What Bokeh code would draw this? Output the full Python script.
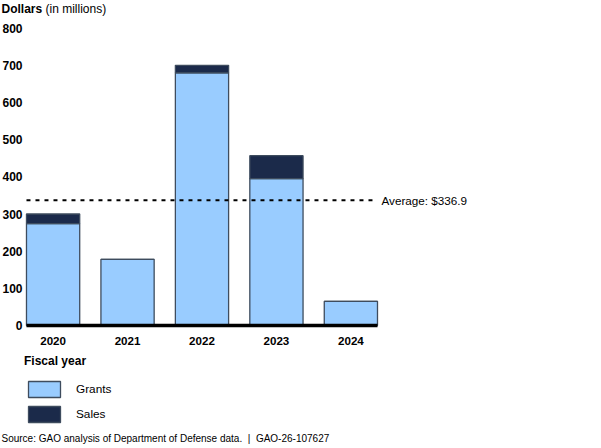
from bokeh.plotting import figure
from bokeh.models import Range1d, FixedTicker, Label, Legend, LegendItem, ColumnDataSource
from bokeh.embed import file_html
from bokeh.resources import INLINE

# ---- data ----
years = ["2020", "2021", "2022", "2023", "2024"]
grants = [274, 178, 680, 395, 65]
sales = [26, 0, 20, 62, 0]
average = 336.9
y_ticks = [0, 100, 200, 300, 400, 500, 600, 700, 800]

FONT = "Liberation Sans"
GRANT_COLOR = "#99ccff"
SALES_COLOR = "#1b2a4a"
OUTLINE = "#3e4c5e"

W, H = 600, 446
xs = list(range(len(years)))
src = ColumnDataSource(dict(x=xs, grants=grants, sales=sales))

BAR_W = 0.715
X0, X1 = -0.7065, 7.353
Y0, Y1 = -325.6, 874.5
PX_PER_X = W / (X1 - X0)

p = figure(width=W, height=H, output_backend="svg", toolbar_location=None,
           x_range=Range1d(X0, X1), y_range=Range1d(Y0, Y1), min_border=0)
p.outline_line_color = None
p.grid.grid_line_color = None
p.background_fill_color = None
p.border_fill_color = None

r = p.vbar_stack(["grants", "sales"], x="x", width=BAR_W, source=src,
                 fill_color=[GRANT_COLOR, SALES_COLOR], line_color=OUTLINE,
                 line_width=1.3)

# baseline and average line spanning the bars
x_left = xs[0] - BAR_W / 2
x_right = xs[-1] + BAR_W / 2
p.segment(x0=[x_left], x1=[x_right], y0=[0], y1=[0], line_color="black", line_width=3.5)
p.segment(x0=[x_left], x1=[x_right], y0=[average], y1=[average],
          line_color="black", line_width=2, line_dash="4 5")
p.add_layout(Label(x=x_right, y=average, x_offset=4, text=f"Average: ${average}",
                   text_font=FONT, text_font_size="11.7px", text_baseline="middle",
                   text_color="black"))

# axes drawn inside the frame
for ax in (p.xaxis[0], p.yaxis[0]):
    ax.axis_line_color = None
    ax.major_tick_line_color = None
    ax.minor_tick_line_color = None
    ax.major_tick_out = 0
    ax.major_tick_in = 0
    ax.minor_tick_out = 0
    ax.major_label_text_font = FONT
    ax.major_label_text_font_style = "bold"
    ax.major_label_text_color = "black"

p.yaxis.ticker = FixedTicker(ticks=y_ticks)
p.yaxis.fixed_location = X0 + 24 / PX_PER_X
p.yaxis.major_label_standoff = 2
p.yaxis.major_label_text_font_size = "12px"

p.xaxis.ticker = FixedTicker(ticks=xs)
p.xaxis.major_label_overrides = {i: y for i, y in zip(xs, years)}
p.xaxis.fixed_location = 0
p.xaxis.major_label_standoff = 12
p.xaxis.major_label_text_font_size = "11.6px"

# title texts
p.add_layout(Label(x=1, y=H - 1, x_units="screen", y_units="screen", text="Dollars",
                   text_font=FONT, text_font_style="bold", text_font_size="12px",
                   text_baseline="top", text_color="black"))
p.add_layout(Label(x=45, y=H - 1, x_units="screen", y_units="screen", text="(in millions)",
                   text_font=FONT, text_font_size="12px",
                   text_baseline="top", text_color="black"))

# legend
legend = Legend(items=[LegendItem(label="Grants", renderers=[r[0]]),
                       LegendItem(label="Sales", renderers=[r[1]])],
                location=(24, 22), title="Fiscal year",
                title_text_font=FONT, title_text_font_style="bold",
                title_text_font_size="12px", title_standoff=11,
                title_text_color="black",
                label_text_font=FONT, label_text_font_size="11.8px",
                label_text_color="black",
                glyph_width=40, glyph_height=20, label_height=20,
                spacing=5, label_standoff=12, padding=0, margin=0,
                border_line_color=None, background_fill_alpha=0)
p.add_layout(legend)

p.add_layout(Label(x=1, y=H - 437.7, x_units="screen", y_units="screen",
                   text="Source: GAO analysis of Department of Defense data.\u00a0\u00a0|\u00a0\u00a0GAO-26-107627",
                   text_font=FONT, text_font_size="10px", text_baseline="middle",
                   text_color="black"))

open("out.html", "w").write(file_html(p, INLINE))
